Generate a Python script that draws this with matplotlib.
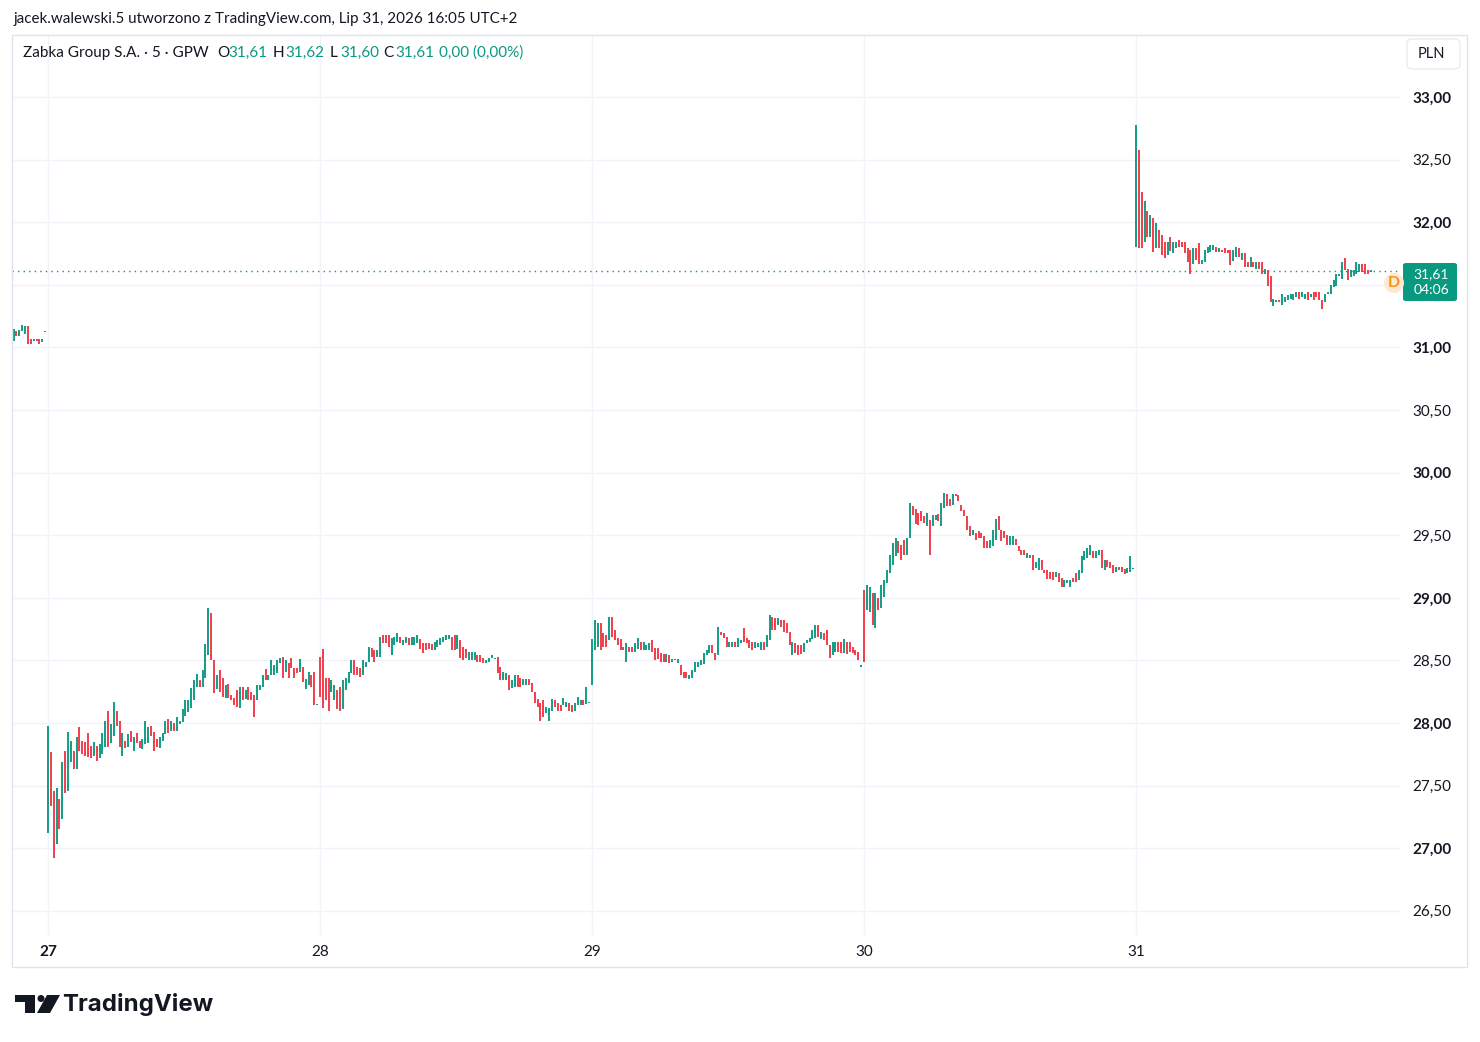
import matplotlib.pyplot as plt
from matplotlib.patches import Rectangle, FancyBboxPatch, Ellipse, Polygon
import numpy as np

W, H = 1480, 1042

# --- dane: swiece 5 min, Zabka Group S.A. (GPW), max / min / kierunek (g = wzrost, r = spadek)
days = ['27', '28', '29', '30', '31']
bars_per_day = 95

# koncowka sesji 24 lip
h24 = [31.15, 31.13, 31.14, 31.18, 31.17, 31.17, 31.07, 31.07, 31.07, 31.07, 31.07, 31.13]
l24 = [31.05, 31.09, 31.09, 31.13, 31.11, 31.03, 31.03, 31.05, 31.05, 31.03, 31.04, 31.12]
d24 = "grgggrrgrrgg"

h27 = [27.98, 27.77, 27.46, 27.48, 27.39, 27.69, 27.78, 27.93, 27.86, 27.78,
       27.89, 27.97, 27.86, 27.85, 27.92, 27.82, 27.85, 27.82, 27.83, 27.92,
       28.02, 28.10, 27.99, 28.17, 28.10, 28.02, 27.92, 27.86, 27.91, 27.94,
       27.89, 27.92, 27.86, 27.87, 28.02, 27.97, 27.98, 27.93, 27.87, 27.89,
       27.92, 28.02, 28.03, 28.02, 28.00, 28.05, 28.02,
       28.11, 28.18, 28.18, 28.28, 28.34, 28.39, 28.34, 28.42, 28.63, 28.92,
       28.88, 28.50, 28.38, 28.42, 28.36, 28.30, 28.31, 28.22, 28.20, 28.26,
       28.29, 28.29, 28.26, 28.29, 28.25, 28.22, 28.30, 28.30, 28.38, 28.43,
       28.38, 28.50, 28.46, 28.50, 28.52, 28.53, 28.50, 28.48, 28.52, 28.44,
       28.44, 28.51, 28.45, 28.35, 28.41, 28.38, 28.41, 28.15]
l27 = [27.12, 27.34, 26.92, 27.03, 27.15, 27.23, 27.44, 27.46, 27.69, 27.63,
       27.63, 27.78, 27.75, 27.74, 27.73, 27.72, 27.74, 27.70, 27.72, 27.75,
       27.81, 27.81, 27.84, 27.90, 27.98, 27.81, 27.74, 27.80, 27.81, 27.85,
       27.78, 27.84, 27.80, 27.79, 27.83, 27.84, 27.90, 27.78, 27.81, 27.80,
       27.86, 27.91, 27.92, 27.94, 27.94, 27.94, 27.99,
       28.01, 28.06, 28.09, 28.12, 28.18, 28.29, 28.29, 28.29, 28.36, 28.54,
       28.50, 28.24, 28.27, 28.25, 28.21, 28.20, 28.20, 28.18, 28.14, 28.13,
       28.12, 28.18, 28.19, 28.18, 28.18, 28.05, 28.18, 28.26, 28.29, 28.34,
       28.34, 28.38, 28.38, 28.40, 28.48, 28.36, 28.41, 28.36, 28.44, 28.36,
       28.40, 28.41, 28.33, 28.27, 28.30, 28.29, 28.14, 28.14]
d27 = ("grrgrgrggrgrrrrrgrgggrggrrgrgrgrrgggrrrgggrgrgg"
       "ggggggrggg" "rrgrrgrrrr" "grgrrrgggr" "gggggrgrrr" "rgrggrrg")

h28 = [28.53, 28.59, 28.36, 28.36, 28.34, 28.30, 28.26, 28.29, 28.34, 28.36,
       28.41, 28.50, 28.50, 28.45, 28.44, 28.50, 28.49, 28.61, 28.60, 28.58,
       28.58, 28.69, 28.70, 28.70, 28.70, 28.68, 28.69, 28.72, 28.69, 28.66,
       28.69, 28.68, 28.69, 28.69, 28.70, 28.67, 28.64, 28.64,
       28.64, 28.63, 28.65, 28.66, 28.68, 28.69, 28.70, 28.70, 28.69, 28.70,
       28.70, 28.66, 28.61, 28.59, 28.57, 28.57, 28.57, 28.54, 28.54, 28.52,
       28.50, 28.52, 28.54, 28.52, 28.53, 28.45, 28.41, 28.40, 28.38, 28.34,
       28.38, 28.38, 28.36, 28.35, 28.35, 28.35, 28.32, 28.25, 28.19, 28.16,
       28.18, 28.13, 28.12, 28.19, 28.18, 28.16, 28.14, 28.20, 28.17, 28.16,
       28.14, 28.16, 28.21, 28.18, 28.18, 28.29, 28.17]
l28 = [28.21, 28.12, 28.18, 28.10, 28.25, 28.18, 28.11, 28.10, 28.11, 28.26,
       28.32, 28.40, 28.38, 28.38, 28.37, 28.38, 28.45, 28.49, 28.53, 28.49,
       28.53, 28.53, 28.64, 28.64, 28.61, 28.54, 28.62, 28.65, 28.64, 28.62,
       28.64, 28.62, 28.62, 28.62, 28.64, 28.59, 28.56, 28.58,
       28.59, 28.58, 28.58, 28.61, 28.62, 28.65, 28.66, 28.67, 28.58, 28.58,
       28.59, 28.52, 28.50, 28.52, 28.50, 28.50, 28.50, 28.49, 28.49, 28.48,
       28.48, 28.49, 28.52, 28.51, 28.40, 28.34, 28.34, 28.34, 28.26, 28.28,
       28.29, 28.29, 28.29, 28.30, 28.30, 28.30, 28.25, 28.16, 28.13, 28.02,
       28.05, 28.08, 28.02, 28.10, 28.13, 28.10, 28.10, 28.14, 28.13, 28.10,
       28.09, 28.10, 28.14, 28.14, 28.14, 28.15, 28.16]
d28 = ("rrrrggrrgg" "ggrrrgggrr" "ggrrrgggrg" "grgggrrr"
       "rrggggggrr" "grrrgggrrr" "ggggrrggrg" "grrggrrrrr" "rgggrrrggr" "rgggrgg")

h29 = [28.67, 28.82, 28.80, 28.80, 28.72, 28.70, 28.85, 28.85, 28.74, 28.68,
       28.67, 28.61, 28.64, 28.61, 28.61, 28.64, 28.68, 28.65, 28.65, 28.62,
       28.64, 28.66, 28.60, 28.60, 28.56, 28.55, 28.55, 28.54, 28.51, 28.51,
       28.51, 28.46, 28.41, 28.41, 28.38, 28.42, 28.49, 28.49, 28.50, 28.56,
       28.58, 28.62, 28.62, 28.56, 28.77, 28.73, 28.72, 28.69, 28.65, 28.65,
       28.65, 28.68, 28.66, 28.76, 28.68, 28.66, 28.65, 28.65, 28.64, 28.65,
       28.65, 28.70, 28.86, 28.85, 28.84, 28.84, 28.82, 28.82, 28.80, 28.73,
       28.65, 28.64, 28.62, 28.62, 28.64, 28.66, 28.68, 28.74, 28.78, 28.78,
       28.73, 28.72, 28.74, 28.62, 28.65, 28.65, 28.65, 28.65, 28.67, 28.65,
       28.65, 28.61, 28.58, 28.57, 28.46]
l29 = [28.30, 28.58, 28.61, 28.58, 28.61, 28.61, 28.66, 28.69, 28.66, 28.62,
       28.58, 28.58, 28.49, 28.57, 28.57, 28.57, 28.59, 28.58, 28.58, 28.58,
       28.58, 28.57, 28.50, 28.51, 28.49, 28.49, 28.49, 28.48, 28.49, 28.50,
       28.48, 28.38, 28.36, 28.36, 28.35, 28.36, 28.41, 28.45, 28.46, 28.47,
       28.54, 28.56, 28.56, 28.50, 28.54, 28.70, 28.68, 28.61, 28.61, 28.61,
       28.61, 28.61, 28.64, 28.65, 28.64, 28.60, 28.58, 28.60, 28.61, 28.58,
       28.58, 28.61, 28.66, 28.74, 28.74, 28.78, 28.77, 28.73, 28.72, 28.62,
       28.54, 28.56, 28.54, 28.55, 28.57, 28.64, 28.65, 28.67, 28.68, 28.69,
       28.67, 28.66, 28.62, 28.52, 28.54, 28.57, 28.57, 28.56, 28.56, 28.55,
       28.57, 28.56, 28.54, 28.50, 28.45]
d29 = ("gggrrrgrrr" "rrgrrggrgg" "grrrrrgrgg" "grrrgggggg" "ggrrgrrrgg"
       "rggrrrrggg" "rggrrgrrrr" "grrrgggggr" "grrrggrrgr" "rrrrg")

h30 = [29.06, 29.10, 29.09, 29.04, 29.04, 29.00, 29.10, 29.14, 29.22, 29.34,
       29.44, 29.48, 29.45, 29.42, 29.46, 29.48, 29.76, 29.73, 29.71, 29.68,
       29.69, 29.65, 29.68, 29.62, 29.66, 29.66, 29.67, 29.76, 29.84, 29.83,
       29.79, 29.83, 29.83, 29.82, 29.74, 29.70, 29.65, 29.57, 29.54, 29.52,
       29.53, 29.52, 29.49, 29.45, 29.46, 29.54, 29.63, 29.65, 29.54, 29.53,
       29.50, 29.49, 29.49, 29.47, 29.41, 29.38, 29.38, 29.36, 29.34, 29.34,
       29.29, 29.32, 29.30, 29.22, 29.22, 29.21, 29.21, 29.21, 29.20, 29.16,
       29.14, 29.14, 29.14, 29.16, 29.20, 29.22, 29.33, 29.37, 29.40, 29.42,
       29.37, 29.37, 29.38, 29.38, 29.30, 29.30, 29.29, 29.26, 29.25, 29.25,
       29.25, 29.23, 29.24, 29.33, 29.24]
l30 = [28.49, 28.90, 28.89, 28.78, 28.76, 28.90, 28.92, 29.01, 29.12, 29.20,
       29.26, 29.33, 29.36, 29.30, 29.34, 29.34, 29.48, 29.66, 29.59, 29.58,
       29.61, 29.60, 29.57, 29.34, 29.57, 29.62, 29.61, 29.57, 29.72, 29.73,
       29.73, 29.74, 29.81, 29.77, 29.69, 29.65, 29.54, 29.49, 29.50, 29.46,
       29.48, 29.48, 29.40, 29.40, 29.40, 29.41, 29.46, 29.54, 29.45, 29.48,
       29.42, 29.42, 29.42, 29.42, 29.37, 29.34, 29.34, 29.32, 29.32, 29.22,
       29.24, 29.22, 29.22, 29.20, 29.15, 29.15, 29.14, 29.17, 29.13, 29.09,
       29.09, 29.12, 29.09, 29.13, 29.13, 29.14, 29.20, 29.30, 29.32, 29.34,
       29.32, 29.32, 29.34, 29.24, 29.22, 29.25, 29.24, 29.20, 29.21, 29.22,
       29.21, 29.19, 29.20, 29.21, 29.23]
d30 = ("rggrgrgggg" "ggrrrggrrr" "rrgrggrggr" "rgrrrrrrgr" "rrrrgggrrr"
       "rggrrrrggr" "ggrrrrrgrr" "gggrrggggg" "rggrgrrrgr" "rrggg")

h31 = [32.78, 32.58, 32.24, 32.17, 32.09, 32.06, 32.03, 31.99, 31.94, 31.90,
       31.84, 31.84, 31.88, 31.84, 31.84, 31.86, 31.84, 31.84, 31.79, 31.78,
       31.79, 31.79, 31.83, 31.70, 31.78, 31.80, 31.82, 31.82, 31.80, 31.79,
       31.78, 31.79, 31.78, 31.78, 31.78, 31.80, 31.79, 31.75, 31.75, 31.68,
       31.72, 31.68, 31.68, 31.68, 31.68, 31.63, 31.62, 31.57, 31.39, 31.38,
       31.38, 31.43, 31.40, 31.42, 31.43, 31.43, 31.44, 31.44, 31.44, 31.43,
       31.44, 31.43, 31.44, 31.44, 31.44, 31.38, 31.43, 31.44, 31.50, 31.54,
       31.59, 31.59, 31.68, 31.71, 31.63, 31.62, 31.62, 31.68, 31.67, 31.67,
       31.67, 31.62, 31.62]
l31 = [31.80, 31.79, 31.79, 31.84, 31.88, 31.88, 31.76, 31.79, 31.79, 31.74,
       31.71, 31.74, 31.77, 31.75, 31.79, 31.80, 31.80, 31.75, 31.68, 31.59,
       31.67, 31.70, 31.67, 31.67, 31.68, 31.75, 31.76, 31.78, 31.76, 31.76,
       31.76, 31.75, 31.75, 31.66, 31.69, 31.72, 31.72, 31.70, 31.64, 31.64,
       31.64, 31.64, 31.63, 31.63, 31.59, 31.59, 31.49, 31.36, 31.33, 31.36,
       31.36, 31.34, 31.36, 31.38, 31.39, 31.38, 31.40, 31.39, 31.40, 31.39,
       31.38, 31.40, 31.38, 31.40, 31.38, 31.31, 31.36, 31.43, 31.43, 31.48,
       31.49, 31.57, 31.55, 31.62, 31.54, 31.56, 31.57, 31.59, 31.60, 31.60,
       31.59, 31.59, 31.60]
d31 = ("grrgrgrgrr" "rgrggrrrrr" "grrgggggrg" "rrrrggrgrr" "grgrrgrrgg"
       "rggggggrgg" "rgrrrrgggg" "gggrrggggr" "rrg")

last_price = 31.61
countdown = '04:06'
price_ticks = [26.5, 27.0, 27.5, 28.0, 28.5, 29.0, 29.5, 30.0, 30.5, 31.0, 31.5, 32.0, 32.5, 33.0]
hidden_tick = 31.5   # zasloniety przez etykiete ceny

up_col = '#089981'
dn_col = '#f23645'
txt_col = '#131722'
grid_col = '#f0f3fa'

plt.rcParams['font.family'] = ['Lato', 'DejaVu Sans']

def fx(x):
    return x / W

def fy(y):
    return 1 - y / H

fig = plt.figure(figsize=(W / 100, H / 100), dpi=100)
fig.patch.set_facecolor('white')

ax = fig.add_axes([fx(12), fy(935), fx(1400) - fx(12), fy(35) - fy(935)])
ax.set_facecolor('white')
for s in ax.spines.values():
    s.set_visible(False)

sessions = [(h24, l24, d24, -len(h24)),
            (h27, l27, d27, 0),
            (h28, l28, d28, bars_per_day),
            (h29, l29, d29, 2 * bars_per_day),
            (h30, l30, d30, 3 * bars_per_day),
            (h31, l31, d31, 4 * bars_per_day)]
for hs, ls, ds, start in sessions:
    x = start + np.arange(len(hs))
    cols = [up_col if c == 'g' else dn_col for c in ds]
    ax.vlines(x, ls, hs, colors=cols, lw=1.35, zorder=3)

ax.axhline(last_price, color=up_col, lw=1.0, ls=(0, (1, 3)), zorder=2)

ax.set_xlim(-12.57, 472.2)
ax.set_ylim(26.307, 33.495)

ax.set_xticks([k * bars_per_day for k in range(len(days))])
ax.set_xticklabels(days)
ax.yaxis.tick_right()
ax.set_yticks(price_ticks)
ax.set_yticklabels(['' if v == hidden_tick else ('%.2f' % v).replace('.', ',')
                    for v in price_ticks])
ax.tick_params(axis='both', length=0, labelsize=11, labelcolor=txt_col)
ax.tick_params(axis='y', pad=9)
ax.tick_params(axis='x', pad=7)
for lbl, v in zip(ax.get_yticklabels(), price_ticks):
    if v == int(v):
        lbl.set_fontweight('bold')
ax.get_xticklabels()[0].set_fontweight('bold')
ax.grid(True, color=grid_col, lw=1.0)
ax.set_axisbelow(True)

# ramka wykresu
fig.patches.append(Rectangle((fx(12), fy(967)), fx(1467) - fx(12), fy(35) - fy(967),
                             transform=fig.transFigure, fill=False,
                             edgecolor='#e0e3eb', lw=1.0, zorder=0))

# naglowek
fig.text(fx(14), fy(19), 'jacek.walewski.5 utworzono z TradingView.com, Lip 31, 2026 16:05 UTC+2',
         fontsize=10.9, color=txt_col, va='center', ha='left')

legend_parts = [(23, 'Zabka Group S.A. · 5 · GPW', txt_col),
                (217, 'O', txt_col), (228, '31,61', up_col),
                (273, 'H', txt_col), (285, '31,62', up_col),
                (330, 'L', txt_col), (340, '31,60', up_col),
                (383, 'C', txt_col), (395, '31,61', up_col),
                (439, '0,00 (0,00%)', up_col)]
for xp, t, c in legend_parts:
    fig.text(fx(xp), fy(53), t, fontsize=11, color=c, va='center', ha='left')

# przycisk waluty
fig.patches.append(FancyBboxPatch((fx(1407), fy(69)), fx(1460) - fx(1407), fy(39) - fy(69),
                                  boxstyle='round,pad=0,rounding_size=0.004',
                                  transform=fig.transFigure, facecolor='white',
                                  edgecolor='#e9ecf2', lw=1.0))
fig.text(fx(1431), fy(54), 'PLN', fontsize=10.5, color=txt_col, ha='center', va='center')

# etykieta ceny
fig.patches.append(FancyBboxPatch((fx(1403), fy(301)), fx(1457) - fx(1403), fy(263) - fy(301),
                                  boxstyle='round,pad=0,rounding_size=0.002',
                                  transform=fig.transFigure, facecolor=up_col,
                                  edgecolor='none'))
fig.text(fx(1431), fy(282), ('%.2f' % last_price).replace('.', ',') + '\n' + countdown,
         fontsize=10, color='white', ha='center', va='center', linespacing=1.3,
         multialignment='center')

# znacznik dywidendy
fig.patches.append(Ellipse((fx(1394), fy(283)), 20 / W, 20 / H, transform=fig.transFigure,
                           facecolor='#fde9d3', edgecolor='none'))
fig.text(fx(1394), fy(283), 'D', fontsize=11.5, color='#f7931a', fontweight='bold',
         ha='center', va='center')

# logo TradingView
fig.patches.append(Polygon([(fx(15), fy(995)), (fx(35), fy(995)), (fx(35), fy(1013)),
                            (fx(25), fy(1013)), (fx(25), fy(1002)), (fx(15), fy(1002))],
                           closed=True, transform=fig.transFigure, facecolor=txt_col))
fig.patches.append(Ellipse((fx(41), fy(998.5)), 7 / W, 7 / H, transform=fig.transFigure,
                           facecolor=txt_col))
fig.patches.append(Polygon([(fx(47), fy(995)), (fx(60), fy(995)), (fx(50), fy(1013)),
                            (fx(37), fy(1013))],
                           closed=True, transform=fig.transFigure, facecolor=txt_col))
fig.text(fx(62), fy(1004), 'TradingView', fontsize=17.3, fontweight='bold', color=txt_col,
         ha='left', va='center', family=['Inter', 'DejaVu Sans'])

fig.savefig('out.png', dpi=100, facecolor='white')
